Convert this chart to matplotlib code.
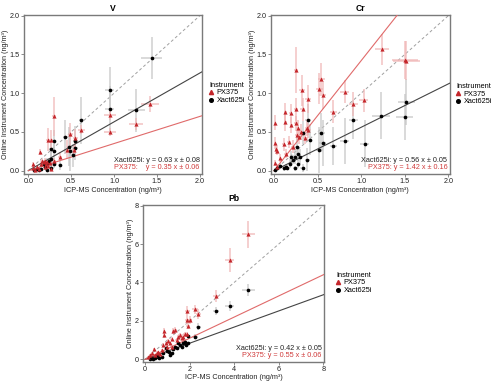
import matplotlib
matplotlib.use('Agg')
import matplotlib.pyplot as plt
from matplotlib.lines import Line2D
import numpy as np

plt.rcParams['font.family'] = ['Liberation Sans', 'DejaVu Sans']

RED = '#c4262b'
RED_LINE = '#e06a6a'
RED_ERR = '#f0b4b4'
BLACK_ERR = '#c4c4c4'
SPINE = '#7a7a7a'

# columns: x, y, xerr, yerr
v_xact = np.array([
  [1.44, 1.45, 0.12, 0.27], [0.95, 1.04, 0.05, 0.30], [0.95, 0.79, 0.05, 0.30],
  [1.26, 0.78, 0.10, 0.28], [0.62, 0.65, 0.03, 0.30], [0.43, 0.43, 0.03, 0.22],
  [0.55, 0.38, 0.03, 0.20], [0.48, 0.31, 0.03, 0.25], [0.49, 0.25, 0.03, 0.25],
  [0.52, 0.20, 0.03, 0.15], [0.55, 0.29, 0.03, 0.15], [0.30, 0.38, 0.02, 0.15],
  [0.26, 0.28, 0.02, 0.12], [0.30, 0.25, 0.02, 0.10], [0.26, 0.15, 0.02, 0.10],
  [0.37, 0.07, 0.02, 0.06], [0.30, 0.08, 0.02, 0.05], [0.22, 0.10, 0.02, 0.06],
  [0.20, 0.05, 0.02, 0.04], [0.15, 0.02, 0.02, 0.03], [0.12, 0.01, 0.02, 0.03],
  [0.10, 0.02, 0.02, 0.03], [0.07, 0.01, 0.02, 0.02], [0.24, 0.12, 0.02, 0.05],
  [0.18, 0.08, 0.02, 0.04], [0.27, 0.04, 0.02, 0.03], [0.22, 0.01, 0.02, 0.03],
])
v_px = np.array([
  [1.42, 0.86, 0.10, 0.10], [1.26, 0.60, 0.08, 0.08], [0.95, 0.72, 0.07, 0.07],
  [0.95, 0.50, 0.07, 0.05], [0.62, 0.53, 0.04, 0.06], [0.30, 0.70, 0.02, 0.25],
  [0.23, 0.40, 0.02, 0.15], [0.27, 0.40, 0.02, 0.12], [0.49, 0.47, 0.03, 0.15],
  [0.55, 0.42, 0.03, 0.12], [0.45, 0.27, 0.03, 0.12], [0.53, 0.27, 0.03, 0.08],
  [0.37, 0.18, 0.02, 0.06], [0.14, 0.24, 0.01, 0.04], [0.30, 0.12, 0.02, 0.05],
  [0.06, 0.08, 0.01, 0.03], [0.06, 0.04, 0.01, 0.02], [0.10, 0.05, 0.01, 0.02],
  [0.15, 0.08, 0.01, 0.03], [0.18, 0.11, 0.02, 0.03], [0.20, 0.13, 0.02, 0.03],
  [0.22, 0.11, 0.02, 0.03], [0.25, 0.10, 0.02, 0.03], [0.27, 0.02, 0.02, 0.02],
  [0.19, 0.05, 0.02, 0.02], [0.23, 0.06, 0.02, 0.02], [0.12, 0.02, 0.01, 0.02],
  [0.08, 0.01, 0.01, 0.02], [0.16, 0.12, 0.02, 0.03], [0.21, 0.09, 0.02, 0.03],
])

cr_xact = np.array([
  [1.52, 0.89, 0.10, 0.30], [1.50, 0.69, 0.10, 0.30], [1.23, 0.71, 0.10, 0.30],
  [0.91, 0.66, 0.05, 0.25], [1.04, 0.35, 0.05, 0.30], [0.81, 0.38, 0.05, 0.30],
  [0.68, 0.32, 0.04, 0.25], [0.56, 0.36, 0.04, 0.30], [0.54, 0.49, 0.04, 0.25],
  [0.52, 0.27, 0.04, 0.30], [0.39, 0.66, 0.03, 0.20], [0.41, 0.40, 0.03, 0.20],
  [0.33, 0.49, 0.03, 0.15], [0.38, 0.14, 0.03, 0.15], [0.33, 0.03, 0.03, 0.05],
  [0.26, 0.31, 0.02, 0.12], [0.24, 0.18, 0.02, 0.10], [0.30, 0.18, 0.02, 0.10],
  [0.27, 0.22, 0.02, 0.10], [0.20, 0.18, 0.02, 0.08], [0.18, 0.09, 0.02, 0.06],
  [0.14, 0.05, 0.02, 0.04], [0.11, 0.03, 0.02, 0.03], [0.07, 0.06, 0.02, 0.04],
  [0.03, 0.03, 0.01, 0.03], [0.01, 0.01, 0.01, 0.02], [0.22, 0.14, 0.02, 0.06],
  [0.28, 0.09, 0.02, 0.05], [0.15, 0.04, 0.02, 0.03], [0.24, 0.03, 0.02, 0.03],
])
cr_px = np.array([
  [1.24, 1.57, 0.08, 0.20], [1.50, 1.43, 0.15, 0.25], [1.52, 1.42, 0.15, 0.25],
  [0.25, 1.30, 0.02, 0.30], [0.54, 1.19, 0.04, 0.20], [0.52, 1.06, 0.04, 0.20],
  [0.56, 0.98, 0.04, 0.18], [0.32, 1.04, 0.03, 0.20], [0.39, 0.92, 0.03, 0.18],
  [0.81, 1.02, 0.05, 0.15], [1.03, 0.91, 0.05, 0.15], [0.91, 0.86, 0.05, 0.15],
  [0.68, 0.76, 0.04, 0.15], [0.33, 0.79, 0.03, 0.15], [0.25, 0.79, 0.02, 0.15],
  [0.13, 0.76, 0.02, 0.12], [0.01, 0.62, 0.01, 0.10], [0.13, 0.63, 0.02, 0.12],
  [0.19, 0.74, 0.02, 0.12], [0.20, 0.59, 0.02, 0.10], [0.25, 0.61, 0.02, 0.10],
  [0.27, 0.55, 0.02, 0.10], [0.38, 0.55, 0.03, 0.10], [0.36, 0.42, 0.03, 0.08],
  [0.26, 0.46, 0.02, 0.08], [0.11, 0.34, 0.02, 0.08], [0.17, 0.37, 0.02, 0.08],
  [0.01, 0.36, 0.01, 0.08], [0.02, 0.28, 0.01, 0.06], [0.03, 0.26, 0.01, 0.06],
  [0.07, 0.16, 0.01, 0.05], [0.01, 0.10, 0.01, 0.04], [0.14, 0.22, 0.02, 0.06],
  [0.22, 0.31, 0.02, 0.08], [0.29, 0.44, 0.02, 0.10], [0.31, 0.50, 0.02, 0.10],
  [0.39, 0.52, 0.03, 0.10], [0.03, 0.05, 0.01, 0.03],
])

pb_xact = np.array([
  [4.63, 3.61, 0.30, 0.30], [3.81, 2.78, 0.20, 0.25], [3.18, 2.53, 0.15, 0.20],
  [2.39, 1.70, 0.12, 0.18], [2.24, 1.18, 0.12, 0.12], [1.94, 1.22, 0.10, 0.12],
  [1.79, 0.92, 0.10, 0.10], [1.94, 0.83, 0.10, 0.10], [1.84, 0.75, 0.10, 0.10],
  [1.57, 0.75, 0.08, 0.10], [1.50, 0.83, 0.08, 0.10], [1.27, 0.52, 0.08, 0.08],
  [1.35, 0.66, 0.08, 0.08], [1.20, 0.31, 0.06, 0.06], [1.09, 0.40, 0.06, 0.06],
  [1.00, 0.45, 0.06, 0.06], [0.82, 0.31, 0.05, 0.05], [0.75, 0.14, 0.05, 0.05],
  [0.64, 0.05, 0.04, 0.04], [0.52, 0.17, 0.04, 0.04], [0.45, 0.05, 0.04, 0.04],
  [0.37, 0.02, 0.03, 0.03], [0.30, 0.05, 0.03, 0.03], [0.22, 0.00, 0.03, 0.03],
  [0.94, 0.57, 0.05, 0.06], [1.64, 0.66, 0.08, 0.08], [1.72, 0.87, 0.08, 0.10],
  [1.12, 0.23, 0.06, 0.05], [1.42, 0.61, 0.08, 0.08], [0.60, 0.14, 0.04, 0.04],
])
pb_px = np.array([
  [4.63, 6.51, 0.30, 0.70], [3.81, 5.17, 0.20, 0.60], [3.18, 3.30, 0.15, 0.30],
  [2.24, 2.60, 0.12, 0.25], [2.39, 2.36, 0.12, 0.25], [1.90, 2.53, 0.10, 0.25],
  [1.90, 2.05, 0.10, 0.20], [2.00, 2.05, 0.10, 0.20], [1.94, 1.74, 0.10, 0.18],
  [1.35, 1.53, 0.08, 0.15], [1.27, 1.49, 0.08, 0.15], [0.85, 1.49, 0.05, 0.15],
  [0.87, 1.27, 0.05, 0.15], [1.57, 1.25, 0.08, 0.12], [1.69, 1.18, 0.08, 0.12],
  [1.79, 1.30, 0.08, 0.12], [1.87, 1.32, 0.08, 0.12], [1.50, 1.15, 0.08, 0.12],
  [1.20, 1.04, 0.06, 0.10], [1.05, 0.97, 0.06, 0.10], [1.12, 0.83, 0.06, 0.08],
  [0.94, 0.83, 0.05, 0.08], [0.82, 0.75, 0.05, 0.08], [0.75, 0.49, 0.05, 0.06],
  [0.60, 0.40, 0.04, 0.05], [0.40, 0.52, 0.04, 0.06], [0.30, 0.35, 0.03, 0.05],
  [0.52, 0.31, 0.04, 0.05], [0.67, 0.28, 0.04, 0.05], [0.22, 0.23, 0.03, 0.04],
  [0.45, 0.23, 0.04, 0.04], [0.15, 0.14, 0.03, 0.04], [1.42, 1.01, 0.08, 0.10],
  [1.64, 1.09, 0.08, 0.10], [0.97, 0.63, 0.06, 0.06], [1.20, 0.66, 0.06, 0.06],
])

elements = ['V', 'Cr', 'Pb']
xact_slope = [0.63, 0.56, 0.42]
xact_unc = [0.08, 0.05, 0.05]
px_slope = [0.35, 1.42, 0.55]
px_unc = [0.06, 0.16, 0.06]
xact_data = [v_xact, cr_xact, pb_xact]
px_data = [v_px, cr_px, pb_px]

W, H = 500, 384
fig = plt.figure(figsize=(W / 100, H / 100), dpi=100)

def px2fig(l, t, r, b):
  return [l / W, 1 - b / H, (r - l) / W, (b - t) / H]

boxes = [px2fig(24, 15, 202.3, 174), px2fig(270.7, 15, 450, 174), px2fig(143.3, 205, 324.3, 361.7)]
xlims = [(-0.05, 2.03), (-0.038, 2.02), (-0.076, 8.045)]
ylims = [(-0.043, 2.01), (-0.043, 2.01), (-0.12, 8.03)]
legend_anchor = [(204, 93), (451, 94), (331, 283)]
pxlabel_pad = ['PX375:    ', 'PX375: ', 'PX375: ']

for i, el in enumerate(elements):
  ax = fig.add_axes(boxes[i])
  lim = xlims[i][1]
  xx = np.array([0, lim * 1.2])
  ax.plot(xx, xx, ls=(0, (3, 2.5)), color='#a0a0a0', lw=0.7, zorder=1)
  ax.plot(xx, xact_slope[i] * xx, color='#444444', lw=0.8, zorder=4)
  ax.plot(xx, px_slope[i] * xx, color=RED_LINE, lw=0.8, zorder=4)

  d = xact_data[i]
  ax.errorbar(d[:, 0], d[:, 1], xerr=d[:, 2], yerr=d[:, 3], fmt='none',
              ecolor=BLACK_ERR, elinewidth=1.1, alpha=0.8, zorder=2)
  d = px_data[i]
  ax.errorbar(d[:, 0], d[:, 1], xerr=d[:, 2], yerr=d[:, 3], fmt='none',
              ecolor=RED_ERR, elinewidth=1.1, alpha=0.8, zorder=2)
  ax.scatter(xact_data[i][:, 0], xact_data[i][:, 1], marker='o', s=7, color='black', lw=0, zorder=5)
  ax.scatter(px_data[i][:, 0], px_data[i][:, 1], marker='^', s=9, color=RED, lw=0, zorder=5)

  ax.set_xlim(xlims[i])
  ax.set_ylim(ylims[i])
  if i < 2:
    ticks = [0.0, 0.5, 1.0, 1.5, 2.0]
    ax.set_xticks(ticks)
    ax.set_yticks(ticks)
    ax.set_xticklabels([f'{t:.1f}' for t in ticks])
    ax.set_yticklabels([f'{t:.1f}' for t in ticks])
  else:
    ticks = [0, 2, 4, 6, 8]
    ax.set_xticks(ticks)
    ax.set_yticks(ticks)
  ax.tick_params(labelsize=5.2, length=2, width=0.6, color=SPINE, pad=1, labelcolor='#222222')
  for s in ax.spines.values():
    s.set_color(SPINE)
    s.set_linewidth(1.0)
  ax.set_xlabel('ICP-MS Concentration (ng/m³)', fontsize=5.2, labelpad=1, color='#222222')
  ax.set_ylabel('Online Instrument Concentration (ng/m³)', fontsize=5.2, labelpad=0.5, color='#222222')
  ax.set_title(el, fontsize=6.2, fontweight='bold', pad=3)

  ax.text(0.985, 0.085, f'Xact625i: y = {xact_slope[i]:.2f} x ± {xact_unc[i]:.2f}',
          transform=ax.transAxes, ha='right', va='center', fontsize=5.2, color='#222222')
  ax.text(0.985, 0.04, f'{pxlabel_pad[i]}y = {px_slope[i]:.2f} x ± {px_unc[i]:.2f}',
          transform=ax.transAxes, ha='right', va='center', fontsize=5.2, color='#d03a3a')

  handles = [Line2D([], [], marker='^', color=RED, lw=0, markersize=3),
             Line2D([], [], marker='o', color='black', lw=0, markersize=2.6)]
  lx, ly = legend_anchor[i]
  fig.legend(handles, ['PX375', 'Xact625i'], title='Instrument', loc='center left',
             bbox_to_anchor=(lx / W, 1 - ly / H), frameon=False, fontsize=5.3,
             title_fontsize=5.3, alignment='left', handlelength=0.6, handletextpad=0.4,
             labelspacing=0.1, borderpad=0.2)

fig.savefig('out.png', dpi=100)
